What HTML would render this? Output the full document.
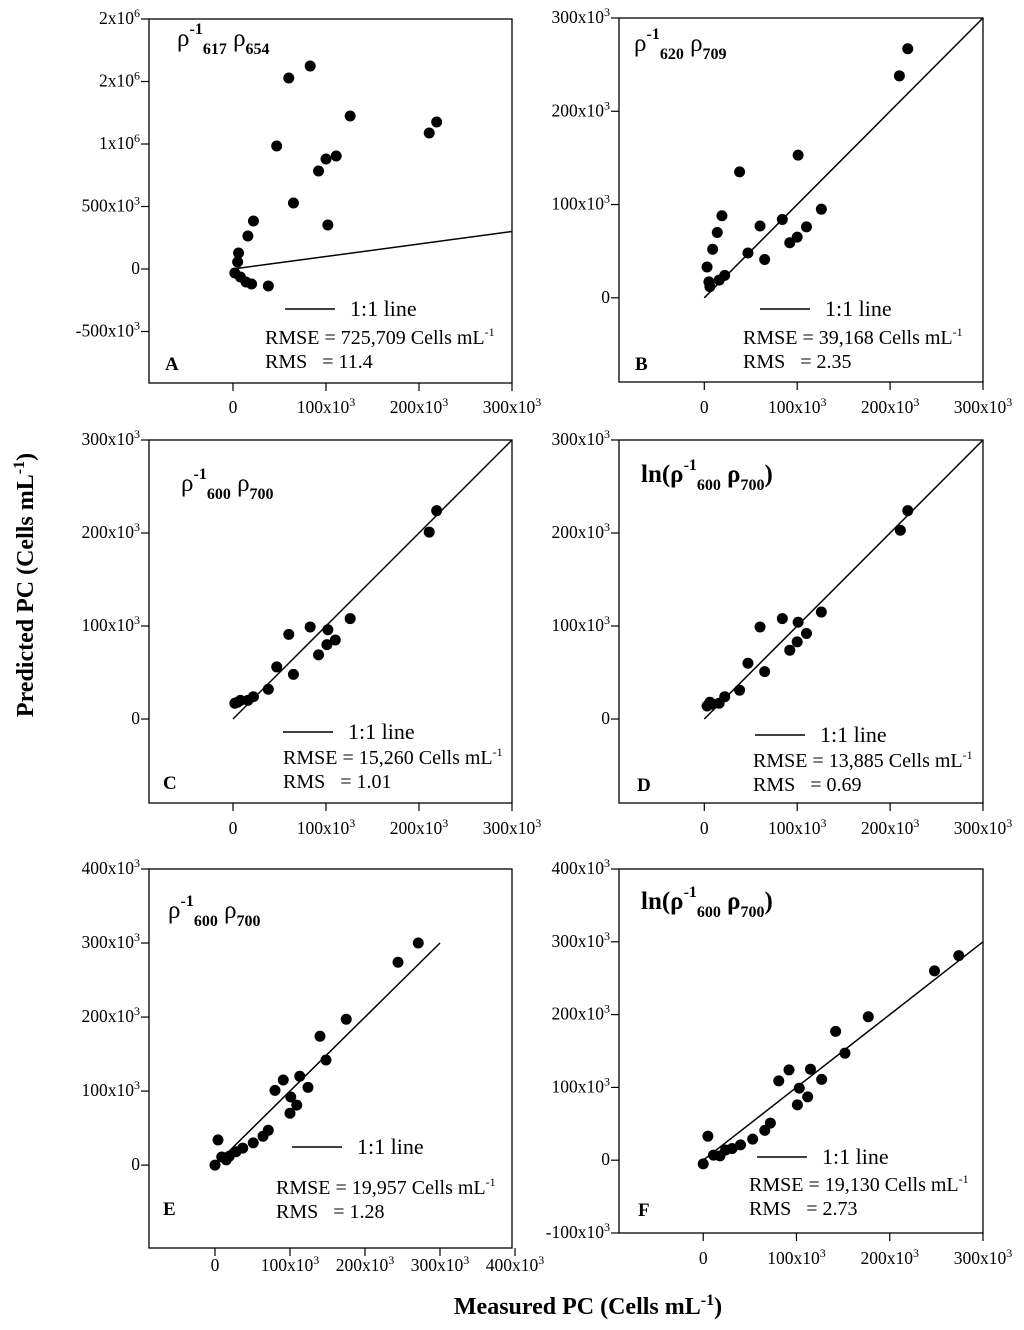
<!DOCTYPE html>
<html><head><meta charset="utf-8"><style>
body{margin:0;background:#fff}
svg{display:block;font-family:"Liberation Serif",serif}
</style></head><body>
<svg id="c" width="1024" height="1330" viewBox="0 0 1024 1330">
<text x="33" y="585" transform="rotate(-90 33 585)" text-anchor="middle" font-size="24" font-weight="bold">Predicted PC (Cells mL<tspan dy="-9" font-size="16">-1</tspan><tspan dy="9">)</tspan></text>
<text x="588" y="1314" text-anchor="middle" font-size="24" font-weight="bold">Measured PC (Cells mL<tspan dy="-9" font-size="16">-1</tspan><tspan dy="9">)</tspan></text>
</svg>
<script>
// Panel data (thousands of cells/mL)
const aX=[60,83,126,219,211,47,100,111,92,65,102,22,16,6,5,2,8,14,20,38];
const aY=[1528,1624,1224,1176,1088,984,880,904,784,528,352,384,264,128,56,-32,-64,-104,-120,-136];
const bX=[219,210,101,38,19,14,9,3,5,6,16,22,47,60,65,84,92,100,110,126];
const bY=[267,238,153,135,88,70,52,33,17,12,19,24,48,77,41,84,59,65,76,95];
const cX=[219,211,126,110,101,102,92,83,60,65,47,38,22,16,8,5,2];
const cY=[224,201,108,85,80,96,69,99,91,48,56,32,24,20,20,18,17];
const dX=[219,211,126,110,101,100,92,84,60,65,47,38,22,16,9,3,6];
const dY=[224,203,115,92,104,83,74,108,99,51,60,31,24,17,16,14,18];
const eX=[271,244,175,140,148,113,91,80,124,101,109,100,71,64,51,37,28,19,9,15,4,0];
const eY=[300,274,197,174,142,120,115,101,105,92,81,70,47,39,30,23,18,12,11,7,34,0];
const fX=[274,248,177,142,152,92,115,81,127,103,112,101,72,66,53,40,31,24,18,11,5,0];
const fY=[281,260,197,177,147,124,125,109,111,99,87,76,51,41,29,21,16,14,6,7,33,-5];
const lineX=[0,300];
const lineY=[0,300];
const tickA=[-500,0,500,1000,1500,2000];
const tickA_lbl=["-500x10|3","0","500x10|3","1x10|6","2x10|6","2x10|6"];
const tick300=[0,100,200,300];
const tick300_lbl=["0","100x10|3","200x10|3","300x10|3"];
const tick400=[0,100,200,300,400];
const tick400_lbl=["0","100x10|3","200x10|3","300x10|3","400x10|3"];
const tickF=[-100,0,100,200,300,400];
const tickF_lbl=["-100x10|3","0","100x10|3","200x10|3","300x10|3","400x10|3"];

const panels=[
 {id:'a',L:149,R:512,T:19,B:383,x0:-90.3,x1:300,y0:-912,y1:2000,xs:aX,ys:aY,yt:tickA,yl:tickA_lbl,xt:tick300,xl:tick300_lbl,xly:413,
  title:[['ρ',0],['-1','sup'],['617','sub'],[' ρ',0],['654','sub']],tx:177,ty:46,bold:false,letter:'A',lx:165,ly:370,
  legX:285,legY:309,rx:265,ry:344,rmse:'725,709',rms:'11.4'},
 {id:'b',L:619,R:983,T:18,B:382,x0:-91.8,x1:300,y0:-90.3,y1:300,xs:bX,ys:bY,yt:[0,100,200,300],yl:tick300_lbl,xt:tick300,xl:tick300_lbl,xly:413,
  title:[['ρ',0],['-1','sup'],['620','sub'],[' ρ',0],['709','sub']],tx:634,ty:51,bold:false,letter:'B',lx:635,ly:370,
  legX:760,legY:309,rx:743,ry:344,rmse:'39,168',rms:'2.35'},
 {id:'c',L:149,R:512,T:440,B:803,x0:-90.3,x1:300,y0:-90.3,y1:300,xs:cX,ys:cY,yt:[0,100,200,300],yl:tick300_lbl,xt:tick300,xl:tick300_lbl,xly:834,
  title:[['ρ',0],['-1','sup'],['600','sub'],[' ρ',0],['700','sub']],tx:181,ty:491,bold:false,letter:'C',lx:163,ly:789,
  legX:283,legY:732,rx:283,ry:764,rmse:'15,260',rms:'1.01'},
 {id:'d',L:619,R:983,T:440,B:803,x0:-91.8,x1:300,y0:-90.3,y1:300,xs:dX,ys:dY,yt:[0,100,200,300],yl:tick300_lbl,xt:tick300,xl:tick300_lbl,xly:834,
  title:[['ln(ρ',0],['-1','sup'],['600','sub'],[' ρ',0],['700','sub'],[')',0]],tx:641,ty:482,bold:true,letter:'D',lx:637,ly:791,
  legX:755,legY:735,rx:753,ry:767,rmse:'13,885',rms:'0.69'},
 {id:'e',L:149,R:512,T:869,B:1248,x0:-88,x1:396,y0:-112,y1:400,xs:eX,ys:eY,yt:[0,100,200,300,400],yl:tick400_lbl,xt:tick400,xl:tick400_lbl,xly:1271,
  title:[['ρ',0],['-1','sup'],['600','sub'],[' ρ',0],['700','sub']],tx:168,ty:918,bold:false,letter:'E',lx:163,ly:1215,
  legX:292,legY:1147,rx:276,ry:1194,rmse:'19,957',rms:'1.28'},
 {id:'f',L:619,R:983,T:869,B:1233,x0:-90.3,x1:300,y0:-100,y1:400,xs:fX,ys:fY,yt:tickF,yl:tickF_lbl,xt:tick300,xl:tick300_lbl,xly:1264,
  title:[['ln(ρ',0],['-1','sup'],['600','sub'],[' ρ',0],['700','sub'],[')',0]],tx:641,ty:909,bold:true,letter:'F',lx:638,ly:1216,
  legX:757,legY:1157,rx:749,ry:1191,rmse:'19,130',rms:'2.73'}
];
const NS='http://www.w3.org/2000/svg';
const svg=document.getElementById('c');
function mk(tag,attrs,parent){const e=document.createElementNS(NS,tag);for(const k in attrs)e.setAttribute(k,attrs[k]);(parent||svg).appendChild(e);return e;}
function lbl(parent,x,y,s,anchor){
  const t=mk('text',{x:x,y:y,'text-anchor':anchor,'font-size':17.5},parent);
  const p=s.split('|');t.textContent=p[0];
  if(p[1]){const sp=mk('tspan',{dy:-7,'font-size':12},t);sp.textContent=p[1];}
  return t;
}
panels.forEach(P=>{
  const g=mk('g',{});
  
  
  const sx=v=>P.L+(v-P.x0)/(P.x1-P.x0)*(P.R-P.L);
  const sy=v=>P.B-(v-P.y0)/(P.y1-P.y0)*(P.B-P.T);
  const fr=mk('rect',{x:P.L,y:P.T,width:P.R-P.L,height:P.B-P.T,fill:'none',stroke:'#000','stroke-width':1.3},g);
  
  
  P.yt.forEach((v,i)=>{
    const y=sy(v);
    mk('line',{x1:P.L-8,x2:P.L,y1:y,y2:y,stroke:'#000','stroke-width':1.2},g);
    const t=lbl(g,P.L-9,y+5,P.yl[i],'end');
    
    
  });
  P.xt.forEach((v,i)=>{
    const x=sx(v);
    mk('line',{x1:x,x2:x,y1:P.B,y2:P.B+8,stroke:'#000','stroke-width':1.2},g);
    const t=lbl(g,x,P.xly,P.xl[i],'middle');
    
    
  });
  const ln=mk('line',{x1:sx(lineX[0]),y1:sy(lineY[0]),x2:sx(Math.min(lineX[1],P.x1)),y2:sy(Math.min(lineY[1],P.x1)),stroke:'#000','stroke-width':1.5},g);
  
  
  P.xs.forEach((v,i)=>{
    const c=mk('circle',{cx:sx(v),cy:sy(P.ys[i]),r:5.5,fill:'#000'},g);
    
    
  });
  const tt=mk('text',{x:P.tx,y:P.ty,'font-size':25,'font-weight':P.bold?'bold':'normal',fill:'#000'},g);
  
  
  let state=0;
  P.title.forEach(([s,k])=>{
    const ts=mk('tspan',{},tt);ts.textContent=s;
    let target=k==='sup'?-12:(k==='sub'?8:0);
    ts.setAttribute('dy',target-state);state=target;
    if(k){ts.setAttribute('font-size',16);ts.setAttribute('font-weight','bold');}
  });
  const lt=mk('text',{x:P.lx,y:P.ly,'font-size':19,'font-weight':'bold'},g);
  lt.textContent=P.letter;
  
  
  mk('line',{x1:P.legX,x2:P.legX+50,y1:P.legY,y2:P.legY,stroke:'#000','stroke-width':1.5},g);
  const lg=mk('text',{x:P.legX+65,y:P.legY+7,'font-size':22},g);
  lg.textContent='1:1 line';
  
  
  const r1=mk('text',{x:P.rx,y:P.ry,'font-size':20},g);
  r1.textContent='RMSE = '+P.rmse+' Cells mL';
  const s1=mk('tspan',{dy:-8,'font-size':12},r1);s1.textContent='-1';
  
  
  const r2=mk('text',{x:P.rx,y:P.ry+24,'font-size':20},g);
  r2.textContent='RMS   = '+P.rms;
  r2.setAttribute('style','white-space:pre');
  
  
});
</script>
</body></html>
